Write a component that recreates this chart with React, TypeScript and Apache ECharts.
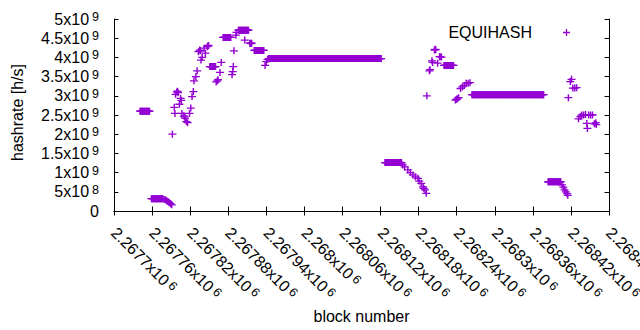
import React, { useEffect, useRef } from 'react';
import * as echarts from 'echarts';

// Axis ranges
const xMin = 2267700;
const xMax = 2268480;
const xStep = 60;
const yMin = 0;
const yMax = 5e9;
const yStep = 5e8;

const seriesName = 'EQUIHASH';
const xTitle = 'block number';
const yTitle = 'hashrate [h/s]';

// Runs of consecutive blocks that share one hashrate value (units: 1e9 h/s)
const runStart = [2267741, 2267759, 2267851, 2267872, 2267896, 2267921, 2267944, 2268127, 2268220, 2268264, 2268384];
const runEnd = [2267756, 2267777, 2267860, 2267884, 2267912, 2267936, 2268121, 2268153, 2268235, 2268377, 2268404];
const runHashrate = [2.6, 0.32, 3.76, 4.52, 4.71, 4.18, 3.97, 1.26, 3.79, 3.03, 0.76];

// Individual blocks (units: 1e9 h/s)
const pointBlock = [
  2267779, 2267781, 2267783, 2267785, 2267787, 2267789, 2267791,
  2267792, 2267795, 2267796, 2267797, 2267799, 2267800, 2267801, 2267803, 2267805, 2267806, 2267807,
  2267810, 2267811, 2267812, 2267814, 2267816, 2267819, 2267821, 2267823, 2267825, 2267826, 2267829,
  2267831, 2267833, 2267835, 2267836, 2267837, 2267839, 2267842, 2267844, 2267847, 2267848, 2267849,
  2267861, 2267863, 2267864, 2267867, 2267869,
  2267886, 2267887, 2267888, 2267889, 2267892, 2267893,
  2267906, 2267914, 2267915, 2267916, 2267917,
  2267938, 2267940, 2267942,
  2268155, 2268158, 2268163, 2268167, 2268171, 2268175, 2268179, 2268181, 2268184, 2268187, 2268188, 2268190, 2268192,
  2268193, 2268197, 2268198, 2268201, 2268202, 2268205, 2268206, 2268207, 2268210, 2268213, 2268214, 2268216,
  2268238, 2268240, 2268241, 2268243, 2268246, 2268249, 2268252, 2268255, 2268258, 2268261,
  2268406, 2268408, 2268410, 2268412, 2268414, 2268415,
  2268416, 2268419, 2268421, 2268423, 2268426, 2268429, 2268432, 2268435, 2268437, 2268440, 2268443,
  2268445, 2268446, 2268448, 2268451, 2268454, 2268457, 2268459, 2268460,
];
const pointHashrate = [
  0.30, 0.29, 0.27, 0.25, 0.22, 0.19, 0.16,
  2.00, 2.70, 2.54, 3.04, 3.10, 3.12, 3.08, 2.78, 2.93, 2.88, 2.54,
  2.48, 2.45, 2.42, 2.33, 2.30, 2.54, 2.68, 2.98, 3.11, 3.39, 3.50,
  3.65, 4.15, 4.19, 4.17, 3.93, 4.00, 4.24, 4.11, 4.28, 4.30, 4.31,
  3.36, 3.39, 3.42, 3.61, 3.87,
  3.55, 3.63, 3.76, 4.17, 4.58, 4.65,
  4.45, 4.37, 4.37, 4.36, 4.37,
  3.79, 3.89, 3.95,
  1.20, 1.15, 1.07, 1.00, 0.94, 0.89, 0.85, 0.78, 0.72, 0.63, 0.59, 0.55, 0.46,
  3.00, 3.65, 3.68, 3.91, 3.87, 4.19, 4.21, 4.20, 3.85, 4.02, 4.02, 4.01,
  2.89, 2.91, 2.92, 2.95, 3.19, 3.23, 3.27, 3.33, 3.33, 3.34,
  0.68, 0.62, 0.55, 0.50, 0.45, 0.41,
  2.95, 3.37, 3.43, 3.20, 3.20, 3.21, 2.40, 2.46, 2.50, 2.50, 2.51,
  2.28, 2.15, 2.50, 2.50, 2.50, 2.27, 2.30, 2.25,
];

const FONT = "'Liberation Sans', Arial, sans-serif";
const FS = 16;
const COLOR = '#9400d3';
const CROSS = 'path://M0,4.1H10V5.9H0Z M4.1,0H5.9V10H4.1Z';

const rich = {
  m: { fontSize: FS, lineHeight: 17, fontFamily: FONT, color: '#000' },
  e: { fontSize: 12.5, lineHeight: 6, verticalAlign: 'top', padding: [0, 0, 0, 3], fontFamily: FONT, color: '#000' },
};

function yLabel(v: number): string {
  if (v === 0) return '0';
  const e = Math.floor(Math.log10(v) + 1e-9);
  const m = +(v / Math.pow(10, e)).toFixed(4);
  return `{m|${m}x10}{e|${e}}`;
}

function xLabel(v: number): string {
  const m = +(v / 1e6).toFixed(5);
  return `{m|${m}x10}{e|6}`;
}

export default function App() {
  const ref = useRef<HTMLDivElement>(null);
  useEffect(() => {
    if (!ref.current) return;
    const chart = echarts.init(ref.current, null, { renderer: 'svg' });
    const data: [number, number][] = [];
    runStart.forEach((s, i) => {
      for (let b = s; b <= runEnd[i]; b++) data.push([b, runHashrate[i] * 1e9]);
    });
    pointBlock.forEach((b, i) => data.push([b, pointHashrate[i] * 1e9]));

    const axisLine = { show: true, lineStyle: { color: '#000', width: 1 } };
    const axisTick = { show: true, inside: true, length: 4.5, lineStyle: { color: '#000', width: 1 } };

    chart.setOption({
      animation: false,
      backgroundColor: '#fff',
      textStyle: { fontFamily: FONT },
      grid: { left: 114, right: 31, top: 19, bottom: 119, containLabel: false, outerBoundsMode: 'none' },
      legend: {
        show: true,
        right: 70,
        top: 24,
        padding: 0,
        align: 'right',
        itemWidth: 7,
        itemHeight: 7,
        textStyle: { fontSize: FS, color: '#000', fontFamily: FONT, lineHeight: 17, padding: [0, 26, 0, 0] },
        data: [{ name: seriesName, icon: CROSS }],
      },
      xAxis: [
        {
          type: 'value', min: xMin, max: xMax, interval: xStep, position: 'bottom',
          axisLine, axisTick, splitLine: { show: false },
          axisLabel: {
            rotate: -45, margin: 19, fontSize: FS, color: '#000', fontFamily: FONT,
            formatter: xLabel, rich, showMinLabel: true, showMaxLabel: true,
          },
          name: xTitle, nameLocation: 'middle', nameGap: 97,
          nameTextStyle: { fontSize: FS, color: '#000', fontFamily: FONT },
        },
        {
          type: 'value', min: xMin, max: xMax, interval: xStep, position: 'top',
          axisLine, axisTick, splitLine: { show: false }, axisLabel: { show: false },
        },
      ],
      yAxis: [
        {
          type: 'value', min: yMin, max: yMax, interval: yStep, position: 'left',
          axisLine, axisTick, splitLine: { show: false },
          axisLabel: { margin: 15, fontSize: FS, color: '#000', fontFamily: FONT, formatter: yLabel, rich },
          name: yTitle, nameLocation: 'middle', nameGap: 89, nameRotate: 90,
          nameTextStyle: { fontSize: FS, color: '#000', fontFamily: FONT, padding: [0, 0, 0, 5] },
        },
        {
          type: 'value', min: yMin, max: yMax, interval: yStep, position: 'right',
          axisLine, axisTick, splitLine: { show: false }, axisLabel: { show: false },
        },
      ],
      series: [
        {
          name: seriesName,
          type: 'scatter',
          xAxisIndex: 0,
          yAxisIndex: 0,
          symbol: CROSS,
          symbolSize: [8, 7],
          itemStyle: { color: COLOR, opacity: 1 },
          silent: true,
          data,
        },
      ],
    });
    return () => chart.dispose();
  }, []);
  return <div ref={ref} style={{ position: 'absolute', left: 0, top: 0, width: 640, height: 330 }} />;
}
